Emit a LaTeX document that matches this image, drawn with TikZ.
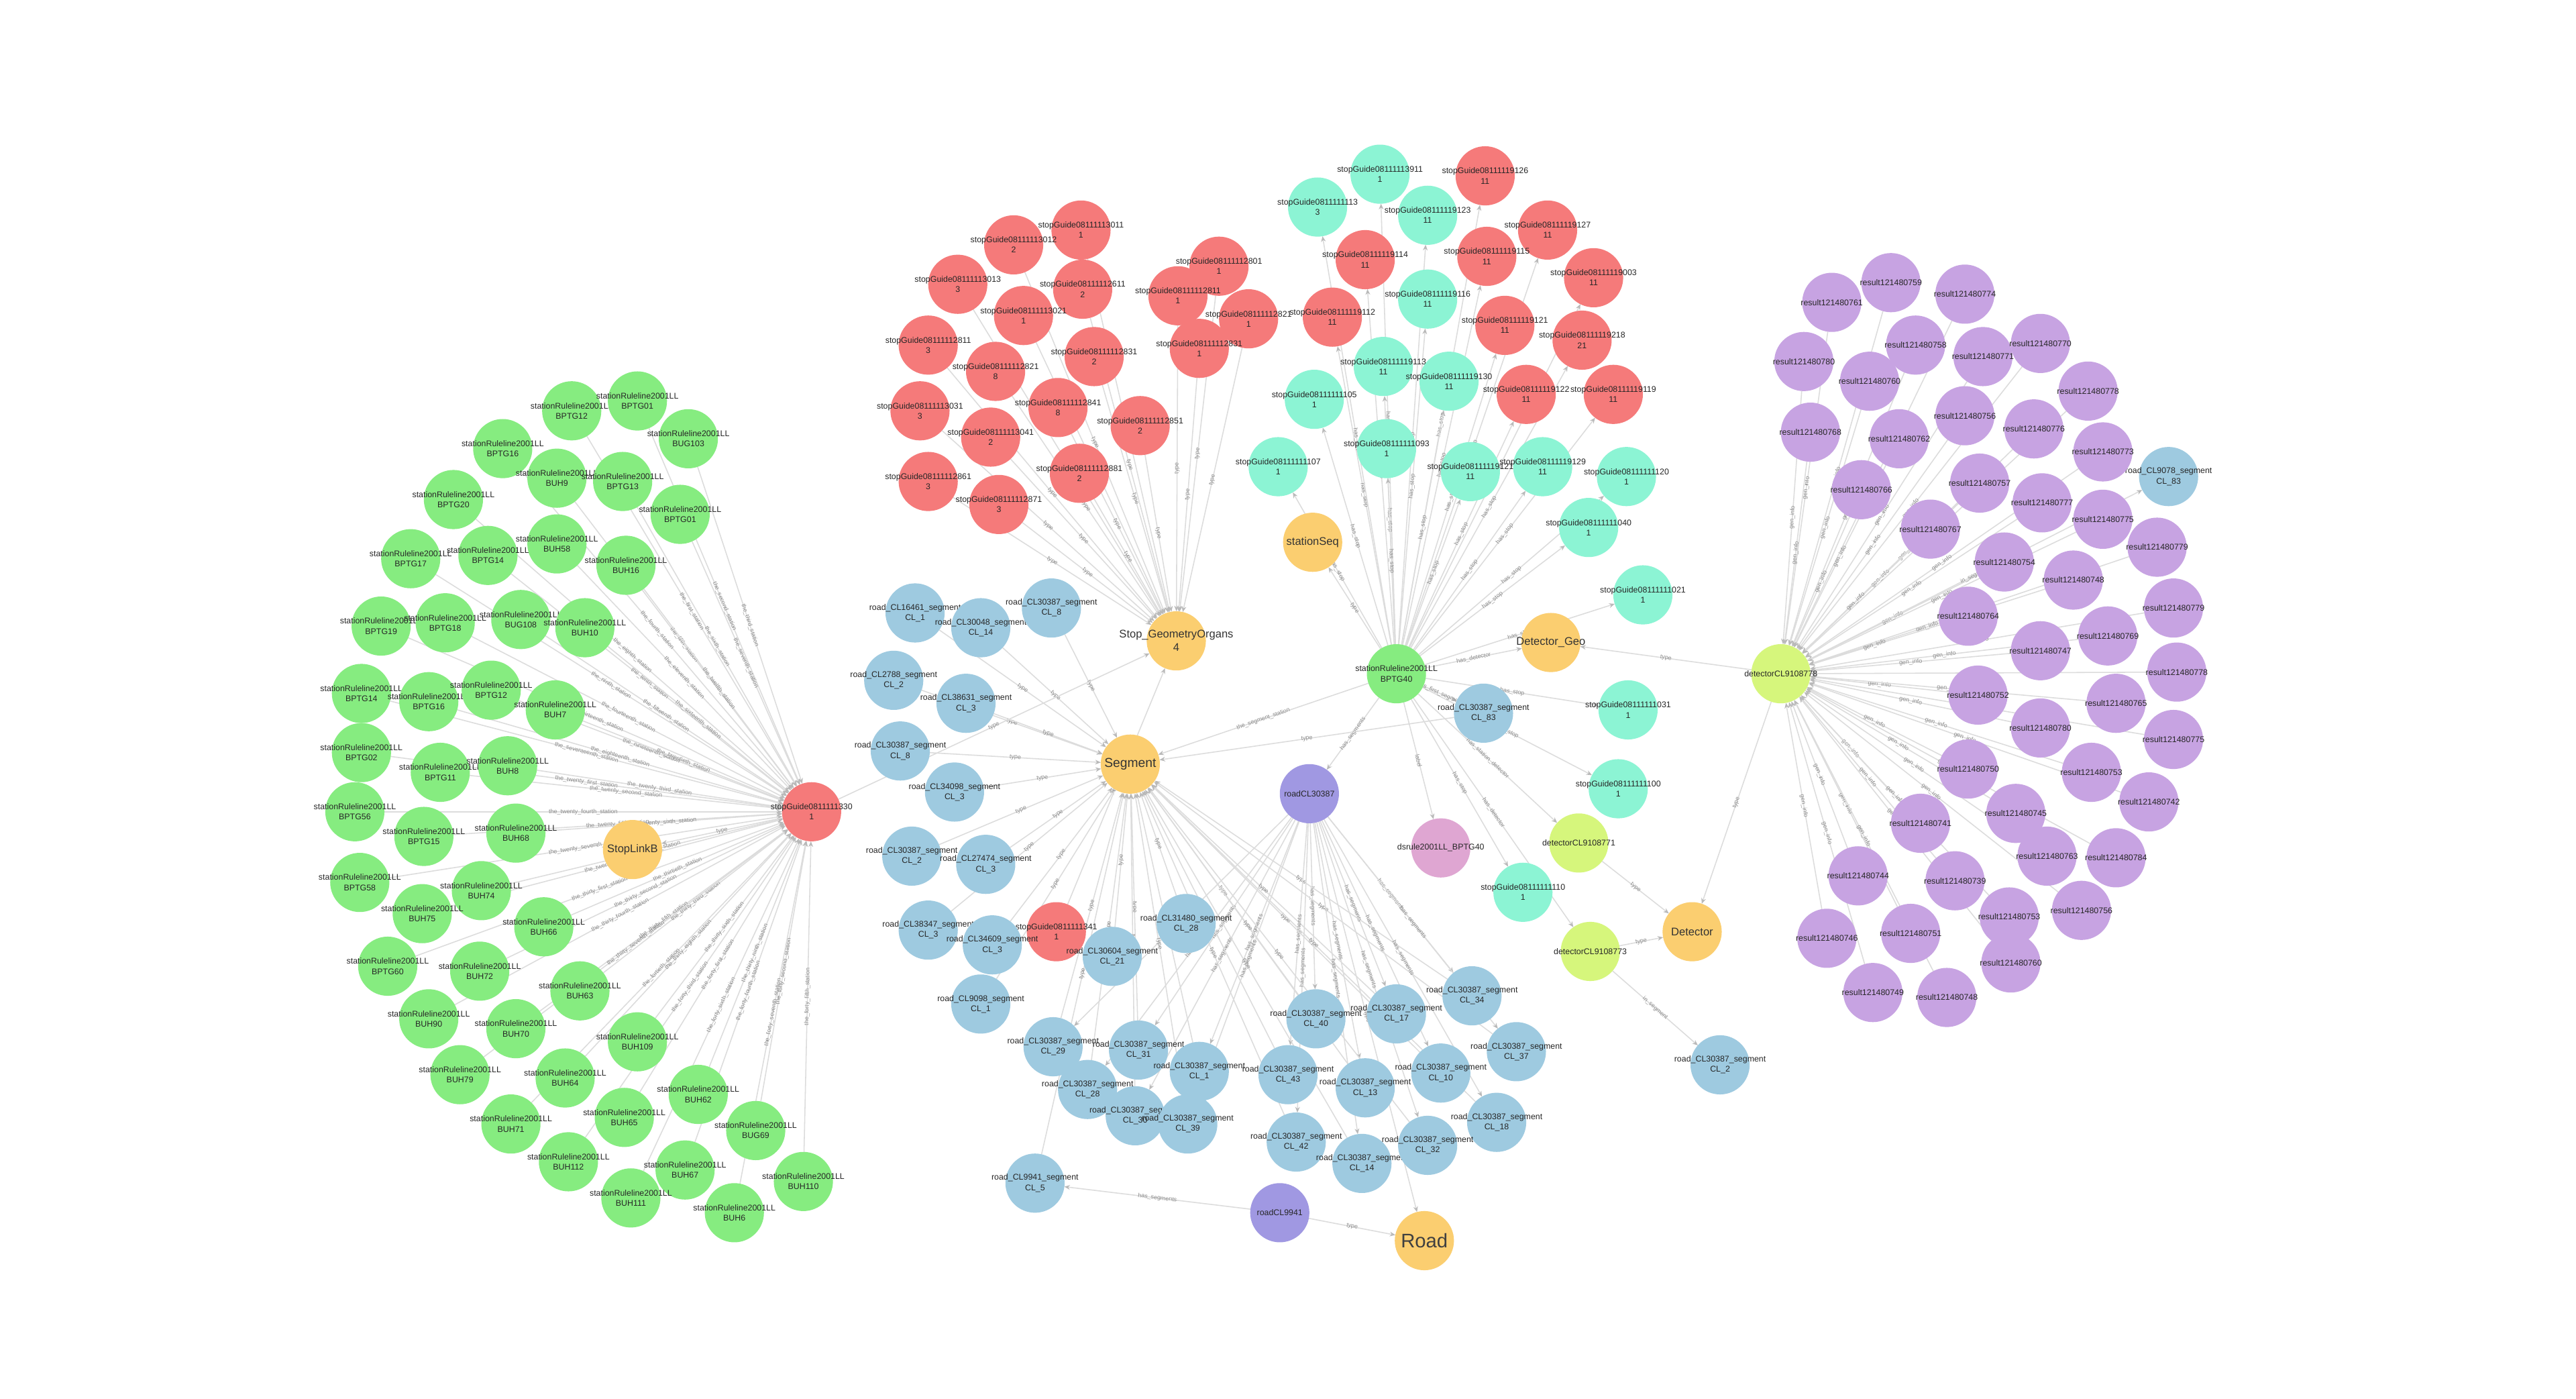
\documentclass[tikz,border=0pt]{standalone}
\usepackage{fontspec}
\setmainfont{Liberation Sans}
\usetikzlibrary{arrows.meta,backgrounds}
\definecolor{cgreen}{RGB}{134,236,128}
\definecolor{cred}{RGB}{245,122,122}
\definecolor{cteal}{RGB}{140,244,212}
\definecolor{corange}{RGB}{251,206,112}
\definecolor{cblue}{RGB}{158,202,224}
\definecolor{cpurple}{RGB}{199,163,226}
\definecolor{croad}{RGB}{160,152,226}
\definecolor{cpink}{RGB}{223,166,210}
\definecolor{clime}{RGB}{214,246,124}
\definecolor{cedge}{RGB}{220,220,220}
\definecolor{ctip}{RGB}{185,185,185}
\definecolor{celab}{RGB}{140,140,140}
\newcommand\ordname[1]{\ifcase#1\or first\or second\or third\or fourth\or fifth\or sixth\or seventh\or eighth\or ninth\or tenth\or eleventh\or twelfth\or thirteenth\or fourteenth\or fifteenth\or sixteenth\or seventeenth\or eighteenth\or nineteenth\or twentieth\or twenty\_first\or twenty\_second\or twenty\_third\or twenty\_fourth\or twenty\_fifth\or twenty\_sixth\or twenty\_seventh\or twenty\_eighth\or twenty\_ninth\or thirtieth\or thirty\_first\or thirty\_second\or thirty\_third\or thirty\_fourth\or thirty\_fifth\or thirty\_sixth\or thirty\_seventh\or thirty\_eighth\or thirty\_ninth\or fortieth\or forty\_first\or forty\_second\or forty\_third\or forty\_fourth\or forty\_fifth\or forty\_sixth\or forty\_seventh\fi}
\tikzset{
 nd/.style={circle,minimum size=0.9cm,inner sep=0pt,outer sep=0pt},
 ngreen/.style={nd,fill=cgreen},
 nred/.style={nd,fill=cred},
 nteal/.style={nd,fill=cteal},
 norange/.style={nd,fill=corange},
 nblue/.style={nd,fill=cblue},
 npurple/.style={nd,fill=cpurple},
 nroad/.style={nd,fill=croad},
 npink/.style={nd,fill=cpink},
 nlime/.style={nd,fill=clime},
 lbl/.style={font=\fontsize{3.6}{4.4}\selectfont,align=center,text=black!85,inner sep=0pt},
 olbl/.style={font=\fontsize{4.8}{5.8}\selectfont,align=center,text=black!80,inner sep=0pt},
 ed/.style={draw=cedge,line width=0.45pt,-{Stealth[length=2.4pt,width=2pt,color=ctip]}},
 el/.style={font=\fontsize{2.6}{3}\selectfont,text=celab,sloped,midway,inner sep=0.3pt},
}
\begin{document}
\begin{tikzpicture}[x=0.025cm,y=-0.025cm]
\begin{pgfonlayer}{background}
\fill[white] (0,0) rectangle (1568,851);
\end{pgfonlayer}
\useasboundingbox (0,0) rectangle (1568,851);

% ---- hubs and class nodes
\node[nred,label={[lbl]center:{stopGuide0811111330\\1}}] (hubR) at (494,494) {};
\node[ngreen,label={[lbl]center:{stationRuleline2001LL\\BPTG40}}] (hubG) at (850,410) {};
\node[nlime,label={[lbl]center:{detectorCL9108778}}] (hubD) at (1084,410) {};
\node[norange,label={[font=\fontsize{5.6}{6.6}\selectfont,text=black!80]center:{Segment}}] (seg) at (688,465) {};
\node[norange,label={[olbl]center:{Stop\_GeometryOrgans\\4}}] (sgeo) at (716,390) {};
\node[norange,label={[olbl]center:{StopLinkB}}] (slink) at (385,517) {};
\node[norange,label={[olbl]center:{stationSeq}}] (sseq) at (799,330) {};
\node[norange,label={[olbl]center:{Detector\_Geo}}] (dgeo) at (944,391) {};
\node[norange,label={[olbl]center:{Detector}}] (det) at (1030,567) {};
\node[norange,label={[font=\fontsize{8.5}{10}\selectfont,text=black!75]center:{Road}}] (road) at (867,755) {};
\node[nroad,label={[lbl]center:{roadCL30387}}] (rd1) at (797,483) {};
\node[nroad,label={[lbl]center:{roadCL9941}}] (rd2) at (779,738) {};
\node[npink,label={[lbl]center:{dsrule2001LL\_BPTG40}}] (dsr) at (877,516) {};
\node[nlime,label={[lbl]center:{detectorCL9108771}}] (dc1) at (961,513) {};
\node[nlime,label={[lbl]center:{detectorCL9108773}}] (dc2) at (968,579) {};
\node[nblue,label={[lbl]center:{road\_CL9941\_segment\\CL\_5}}] (b32) at (630,720) {};
\node[nblue,label={[lbl]center:{road\_CL30387\_segment\\CL\_83}}] (b33) at (903,434) {};
\node[nblue,label={[lbl]center:{road\_CL30387\_segment\\CL\_2}}] (b34) at (1047,648) {};
\node[nblue,label={[lbl]center:{road\_CL9078\_segment\\CL\_83}}] (b35) at (1320,290) {};
\node[nred,label={[lbl]center:{stopGuide0811111341\\1}}] (rs) at (643,567) {};

% ---- green stations -> red hub
\foreach \x/\y/\c [count=\i] in {348/250/BPTG12,388/244/BPTG01,419/267/BUG103,306/273/BPTG16,339/291/BUH9,379/293/BPTG13,414/313/BPTG01,276/304/BPTG20,250/340/BPTG17,297/338/BPTG14,339/331/BUH58,381/344/BUH16,232/381/BPTG19,271/379/BPTG18,317/377/BUG108,356/382/BUH10,220/422/BPTG14,261/427/BPTG16,299/420/BPTG12,338/432/BUH7,220/458/BPTG02,268/470/BPTG11,309/466/BUH8,216/494/BPTG56,258/509/BPTG15,314/507/BUH68,219/537/BPTG58,293/542/BUH74,257/556/BUH75,331/564/BUH66,236/588/BPTG60,292/591/BUH72,353/603/BUH63,261/620/BUH90,314/626/BUH70,388/634/BUH109,280/654/BUH79,344/656/BUH64,425/666/BUH62,311/684/BUH71,380/680/BUH65,460/688/BUG69,346/707/BUH112,417/712/BUH67,489/719/BUH110,384/729/BUH111,447/738/BUH6}{
 \node[ngreen,label={[lbl]center:{stationRuleline2001LL\\\c}}] (g\i) at (\x,\y) {};
 \begin{pgfonlayer}{background}
 \draw[ed] (g\i) -- node[el]{the\_\ordname{\i}\_station} (hubR);
 \end{pgfonlayer}
}

% ---- red stops -> Stop_GeometryOrgans
\foreach \x/\y/\c/\d [count=\i] in {658/140/13011/1,617/149/13012/2,583/173/13013/3,659/176/12611/2,623/192/13021/1,565/210/12811/3,606/226/12821/8,666/217/12831/2,560/250/13031/3,603/266/13041/2,644/248/12841/8,694/259/12851/2,565/293/12861/3,608/307/12871/3,657/288/12881/2,742/162/12801/1,717/180/12811/1,760/194/12821/1,730/212/12831/1}{
 \node[nred,label={[lbl]center:{stopGuide081111\c\\\d}}] (r\i) at (\x,\y) {};
 \begin{pgfonlayer}{background}
 \draw[ed] (r\i) -- node[el]{type} (sgeo);
 \end{pgfonlayer}
}

% ---- stops of the green hub (red and teal)
\foreach \x/\y/\c/\d [count=\i] in {904/107/19126/11,942/140/19127/11,831/158/19114/11,905/156/19115/11,970/169/19003/11,811/193/19112/11,916/198/19121/11,963/207/19218/21,929/240/19122/11,982/240/19119/11}{
 \node[nred,label={[lbl]center:{stopGuide081111\c\\\d}}] (q\i) at (\x,\y) {};
 \begin{pgfonlayer}{background}
 \draw[ed] (hubG) -- node[el]{has\_stop} (q\i);
 \end{pgfonlayer}
}
\foreach \x/\y/\c/\d [count=\i] in {840/106/13911/1,802/126/1113/3,869/131/19123/11,869/182/19116/11,842/223/19113/11,882/232/19130/11,800/243/11105/1,844/273/11093/1,778/284/11107/1,895/287/19121/11,939/284/19129/11,990/290/11120/1,967/321/11040/1,1000/362/11021/1,991/432/11031/1,985/480/11100/1,927/543/11110/1}{
 \node[nteal,label={[lbl]center:{stopGuide081111\c\\\d}}] (t\i) at (\x,\y) {};
 \begin{pgfonlayer}{background}
 \draw[ed] (hubG) -- node[el]{has\_stop} (t\i);
 \end{pgfonlayer}
}

% ---- segments -> Segment
\foreach \x/\y/\c/\d [count=\i] in {557/373/16461/1,597/382/30048/14,640/370/30387/8,544/414/2788/2,588/428/38631/3,548/457/30387/8,581/482/34098/3,555/521/30387/2,600/526/27474/3,565/566/38347/3,604/575/34609/3,722/562/31480/28,677/582/30604/21,597/611/9098/1}{
 \node[nblue,label={[lbl]center:{road\_CL\c\_segment\\CL\_\d}}] (b\i) at (\x,\y) {};
 \begin{pgfonlayer}{background}
 \draw[ed] (b\i) -- node[el]{type} (seg);
 \end{pgfonlayer}
}
\foreach \x/\y/\d [count=\i] in {641/637/29,693/639/31,662/663/28,730/652/1,691/679/30,723/684/39,801/620/40,850/617/17,896/606/34,923/640/37,784/654/43,831/662/13,877/653/10,911/683/18,789/695/42,829/708/14,869/697/32}{
 \node[nblue,label={[lbl]center:{road\_CL30387\_segment\\CL\_\d}}] (c\i) at (\x,\y) {};
 \begin{pgfonlayer}{background}
 \draw[ed] (c\i) -- node[el]{type} (seg);
 \draw[ed] (rd1) -- node[el]{has\_segments} (c\i);
 \end{pgfonlayer}
}

% ---- purple results -> detector hub
\foreach \x/\y/\c [count=\i] in {1151/172/759,1115/184/761,1196/179/774,1166/210/758,1098/220/780,1207/217/771,1242/209/770,1138/232/760,1271/238/778,1102/263/768,1156/267/762,1196/253/756,1238/261/776,1280/275/773,1133/298/766,1205/294/757,1243/306/777,1280/316/775,1175/322/767,1313/333/779,1220/342/754,1262/353/748,1323/370/779,1198/375/764,1242/396/747,1283/387/769,1325/409/778,1204/423/752,1288/428/765,1242/443/780,1323/450/775,1198/468/750,1273/470/753,1308/488/742,1227/495/745,1169/501/741,1246/521/763,1288/522/784,1131/533/744,1190/536/739,1223/558/753,1267/554/756,1112/571/746,1163/568/751,1224/586/760,1140/604/749,1185/607/748}{
 \node[npurple,label={[lbl]center:{result121480\c}}] (p\i) at (\x,\y) {};
 \begin{pgfonlayer}{background}
 \draw[ed] (p\i) -- node[el]{gen\_info} (hubD);
 \end{pgfonlayer}
}

% ---- remaining connectors
\begin{pgfonlayer}{background}
\draw[ed] (hubR) -- node[el]{type} (slink);
\draw[ed] (hubR) -- node[el]{type} (sgeo);
\draw[ed] (rs) -- node[el]{type} (sgeo);
\draw[ed] (hubG) -- node[el]{type} (sseq);
\draw[ed] (hubG) -- node[el]{the\_segment\_station} (seg);
\draw[ed] (hubG) -- node[el]{has\_detector} (dgeo);
\draw[ed] (hubG) -- node[el]{has\_first\_segment} (b33);
\draw[ed] (hubG) -- node[el]{has\_segments} (rd1);
\draw[ed] (hubG) -- node[el]{label} (dsr);
\draw[ed] (hubG) -- node[el]{has\_station\_detector} (dc1);
\draw[ed] (hubG) -- node[el]{has\_detector} (dc2);
\draw[ed] (b33) -- node[el]{type} (seg);
\draw[ed] (b32) -- node[el]{type} (seg);
\draw[ed] (dc2) -- node[el]{in\_segment} (b34);
\draw[ed] (hubD) -- node[el]{in\_segment} (b35);
\draw[ed] (hubD) -- node[el]{type} (dgeo);
\draw[ed] (hubD) -- node[el]{type} (det);
\draw[ed] (dc1) -- node[el]{type} (det);
\draw[ed] (dc2) -- node[el]{type} (det);
\draw[ed] (rd1) -- node[el]{type} (road);
\draw[ed] (rd2) -- node[el]{type} (road);
\draw[ed] (rd2) -- node[el]{has\_segments} (b32);
\end{pgfonlayer}
\end{tikzpicture}
\end{document}
